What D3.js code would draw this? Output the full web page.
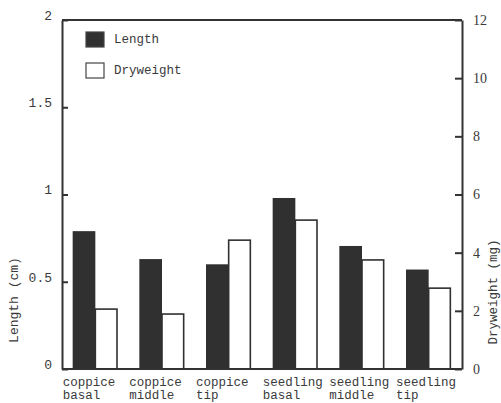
<!DOCTYPE html>
<html>
<head>
<meta charset="utf-8">
<script src="https://cdn.jsdelivr.net/npm/d3@7"></script>
<style>
  body { margin: 0; background: #fff; }
  text { fill: #3a3a3a; }
</style>
</head>
<body>
<div id="chart-area"></div>
<script>
// data
var categories = [["coppice", "basal"], ["coppice", "middle"], ["coppice", "tip"],
                  ["seedling", "basal"], ["seedling", "middle"], ["seedling", "tip"]];
var lengthCm = [0.79, 0.63, 0.60, 0.98, 0.705, 0.57];
var dryweightMg = [2.06, 1.89, 4.43, 5.12, 3.75, 2.78];
var leftTicks = [0, 0.5, 1, 1.5, 2];
var rightTicks = [0, 2, 4, 6, 8, 10, 12];
var seriesNames = ["Length", "Dryweight"];

var margin = { left:62, right:39, top:20, bottom:34 };
var width = 501 - margin.left - margin.right,
    height = 403 - margin.top - margin.bottom;

var svg = d3.select("#chart-area")
    .append("svg")
    .attr("width", 501)
    .attr("height", 403);

var g = svg.append("g")
    .attr("transform", "translate(" + margin.left + "," + margin.top + ")");

var x = d3.scaleBand()
    .domain(d3.range(categories.length))
    .range([0, width])
    .paddingInner(0.32)
    .paddingOuter(0.16);

var xs = d3.scaleBand()
    .domain(seriesNames)
    .range([0, x.bandwidth()]);

var yL = d3.scaleLinear().domain([0, 2]).range([height, 0]);
var yR = d3.scaleLinear().domain([0, 12]).range([height, 0]);

var mono = "'Liberation Mono', 'DejaVu Sans Mono', monospace";
var serif = "'Liberation Serif', 'DejaVu Serif', serif";

// bars
var groups = g.selectAll(".grp")
    .data(categories)
    .enter().append("g")
    .attr("class", "grp")
    .attr("transform", function(d, i){ return "translate(" + x(i) + ",0)"; });

groups.append("rect")
    .attr("x", xs("Length"))
    .attr("y", function(d, i){ return yL(lengthCm[i]); })
    .attr("width", xs.bandwidth())
    .attr("height", function(d, i){ return height - yL(lengthCm[i]); })
    .attr("fill", "#303030");

groups.append("rect")
    .attr("x", xs("Dryweight"))
    .attr("y", function(d, i){ return yR(dryweightMg[i]); })
    .attr("width", xs.bandwidth() - 1)
    .attr("height", function(d, i){ return height - yR(dryweightMg[i]); })
    .attr("fill", "#fff")
    .attr("stroke", "#303030")
    .attr("stroke-width", 1.6);

// x labels, two lines each
groups.append("text")
    .attr("x", -10)
    .attr("y", height + 17)
    .attr("font-family", mono)
    .attr("font-size", "12.5px")
    .text(function(d){ return d[0]; });
groups.append("text")
    .attr("x", -10)
    .attr("y", height + 30)
    .attr("font-family", mono)
    .attr("font-size", "12.5px")
    .text(function(d){ return d[1]; });

// axes
var leftAxis = d3.axisLeft(yL)
    .tickValues(leftTicks)
    .tickSizeInner(-6)
    .tickSizeOuter(0)
    .tickPadding(10)
    .tickFormat(function(d){ return String(d); });
var la = g.append("g").call(leftAxis);
la.selectAll("text")
    .attr("font-family", mono)
    .attr("font-size", "13px")
    .attr("dy", "-0.05em");

var rightAxis = d3.axisRight(yR)
    .tickValues(rightTicks)
    .tickSizeInner(-7)
    .tickSizeOuter(0)
    .tickPadding(11);
var ra = g.append("g")
    .attr("transform", "translate(" + width + ",0)")
    .call(rightAxis);
ra.selectAll("text")
    .attr("font-family", serif)
    .attr("font-size", "14px");

g.selectAll(".domain, .tick line")
    .attr("stroke", "#333")
    .attr("stroke-width", 2);

// frame top and bottom
g.append("line").attr("x1", 0).attr("x2", width).attr("y1", 0).attr("y2", 0)
    .attr("stroke", "#333").attr("stroke-width", 2);
g.append("line").attr("x1", 0).attr("x2", width).attr("y1", height).attr("y2", height)
    .attr("stroke", "#333").attr("stroke-width", 2);

// axis titles
svg.append("text")
    .attr("transform", "translate(18,300) rotate(-90)")
    .attr("text-anchor", "middle")
    .attr("font-family", mono)
    .attr("font-size", "13px")
    .text("Length (cm)");

svg.append("text")
    .attr("transform", "translate(497,292) rotate(-90)")
    .attr("text-anchor", "middle")
    .attr("font-family", mono)
    .attr("font-size", "12.5px")
    .text("Dryweight (mg)");

// legend
var legend = svg.append("g").attr("transform", "translate(86,32)");
legend.selectAll("rect")
    .data(seriesNames)
    .enter().append("rect")
    .attr("x", 0)
    .attr("y", function(d, i){ return i * 31; })
    .attr("width", 18)
    .attr("height", 15)
    .attr("fill", function(d, i){ return i == 0 ? "#303030" : "#fff"; })
    .attr("stroke", "#444")
    .attr("stroke-width", 1.2);
legend.selectAll("text")
    .data(seriesNames)
    .enter().append("text")
    .attr("x", 28)
    .attr("y", function(d, i){ return i * 31 + 11; })
    .attr("font-family", mono)
    .attr("font-size", "12.5px")
    .text(function(d){ return d; });
</script>
</body>
</html>
